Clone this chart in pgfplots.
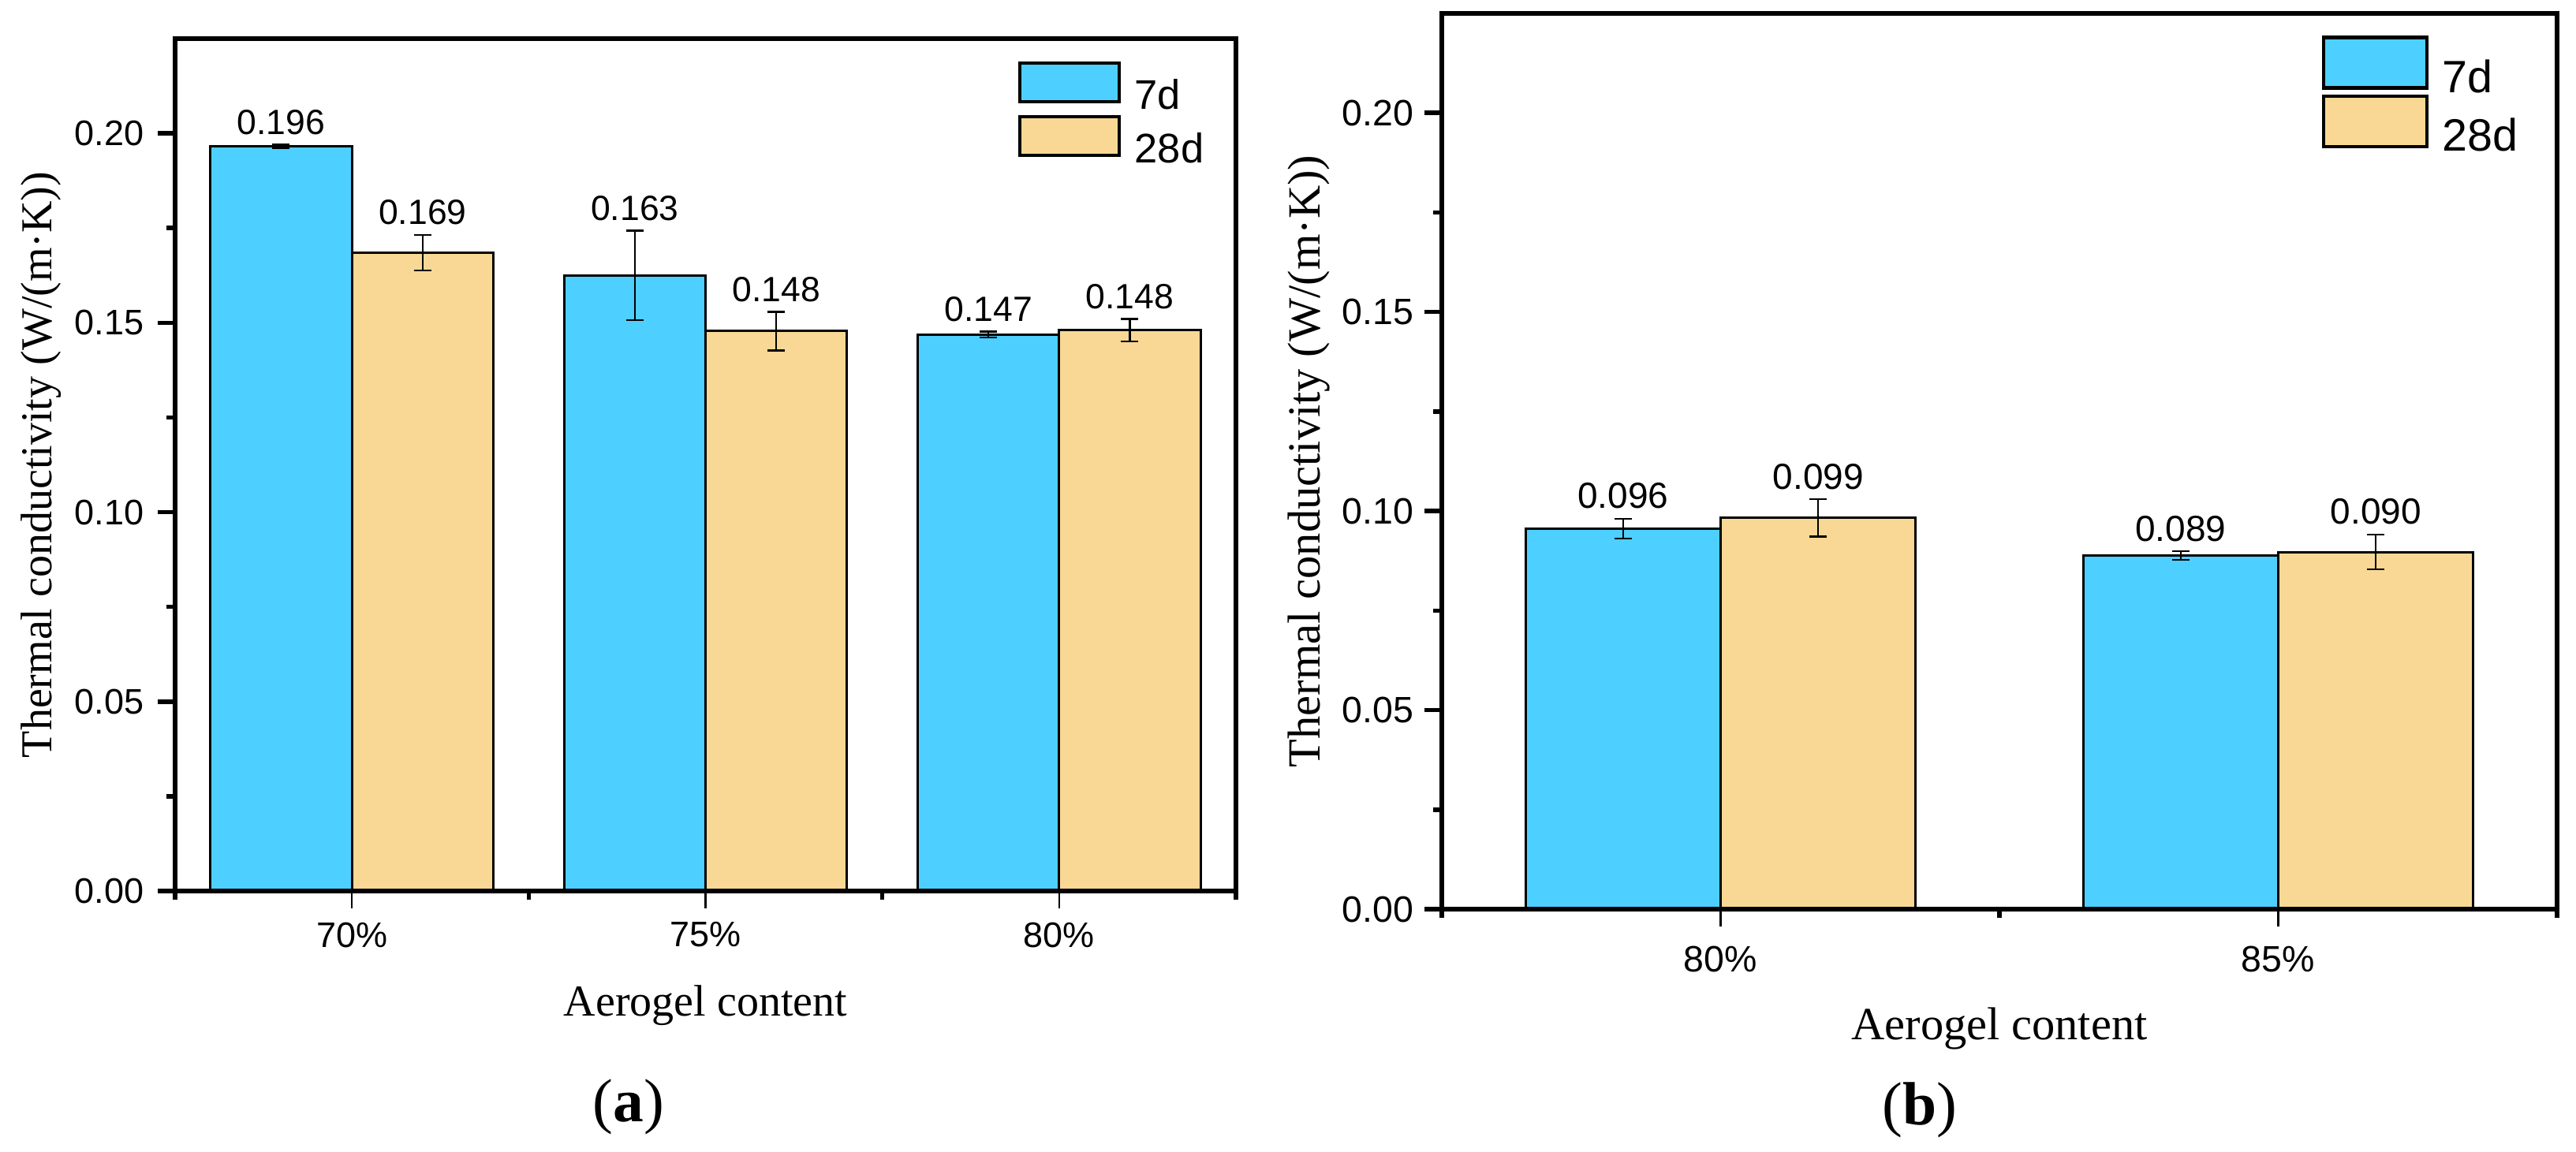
\documentclass[border=0pt]{standalone}
\usepackage{pgfplots}
\pgfplotsset{compat=1.18}
\usepackage{pgfplotstable}
\usepackage{fontspec}
\setmainfont{Liberation Sans}
\newfontfamily\seriffont{Liberation Serif}

\definecolor{c7}{RGB}{77,207,255}
\definecolor{c28}{RGB}{249,216,149}

% x, 7d value/error/label, 28d value/error/label
\pgfplotstableread{
x v7 e7 l7 v28 e28 l28
1 0.1965 0.0005 0.196 0.1685 0.0047 0.169
2 0.1625 0.0118 0.163 0.1478 0.0051 0.148
3 0.1469 0.0008 0.147 0.1480 0.0030 0.148
}\dataA

\pgfplotstableread{
x v7 e7 l7 v28 e28 l28
1 0.0956 0.0025 0.096 0.0983 0.0047 0.099
2 0.0888 0.0011 0.089 0.0897 0.0044 0.090
}\dataB

\pgfplotsset{
  thc/.style={
    scale only axis, ybar=0pt,
    ymin=0, ymax=0.225, enlargelimits=false,
    axis line style={line width=1.1pt},
    tick align=outside, tick pos=left,
    major tick length=4.4pt, minor tick length=2.2pt,
    every tick/.style={black, line width=1.1pt},
    major x tick style={line width=0.45pt},
    ytick={0,0.05,0.1,0.15,0.2}, minor y tick num=1,
    scaled y ticks=false,
    yticklabel style={/pgf/number format/fixed, /pgf/number format/fixed zerofill,
      /pgf/number format/precision=2},
    /pgf/number format/assume math mode=true,
    ylabel={Thermal conductivity (W/(m·K))},
    xlabel={Aerogel content},
    axis on top,
    legend cell align=left,
  },
  barset/.style={
    draw=black, line width=0.6pt,
    nodes near coords, point meta=explicit symbolic,
    visualization depends on={\thisrow{#1} \as \err},
    error bars/y dir=both, error bars/y explicit,
    error bars/error bar style={line width=0.45pt, black},
    error bars/error mark options={rotate=90, mark size=2.2pt, line width=0.45pt, black},
  },
}

\begin{document}
\begin{tikzpicture}
\useasboundingbox (0,0) rectangle (653.2pt,-292pt);

% ---------- (a)
\begin{axis}[thc,
  at={(44.4pt,-9.8pt)}, anchor=north west,
  width=269pt, height=216.2pt,
  bar width=0.4,
  xmin=0.5, xmax=3.5, xtick={1,2,3}, xticklabels={70\%,75\%,80\%},
  minor xtick={0.5,1.5,2.5,3.5},
  tick label style={font=\fontsize{9}{10}\selectfont},
  xlabel style={at={(axis description cs:0.5,-0.147)}, anchor=base,
    font=\seriffont\fontsize{11.2}{13}\selectfont},
  ylabel style={at={(axis description cs:-0.116,0.5)}, anchor=base,
    font=\seriffont\fontsize{11.2}{13}\selectfont},
  every node near coord/.append style={font=\fontsize{8.9}{10}\selectfont,
    inner sep=0pt, anchor=south, yshift=\err*960.9+2.2, black},
  legend style={draw=none, fill=none, at={(rel axis cs:0.795,0.973)},
    anchor=north west, inner sep=0pt, outer sep=0pt, row sep=0pt,
    column sep=0pt, font=\fontsize{10.5}{12}\selectfont,
    nodes={inner sep=0pt, outer sep=0pt}},
  legend image code/.code={\draw[#1, line width=0.8pt] (0pt,-1.15pt) rectangle (25.2pt,8.65pt);
    \path (28.8pt,0pt);},
]
\addplot[fill=c7, barset=e7] table[x=x, y=v7, y error=e7, meta=l7] {\dataA};
\addplot[fill=c28, barset=e28] table[x=x, y=v28, y error=e28, meta=l28] {\dataA};
\legend{7d,28d}
\end{axis}

% ---------- (b)
\begin{axis}[thc,
  at={(365.6pt,-3.4pt)}, anchor=north west,
  width=282.8pt, height=227.2pt,
  bar width=0.35,
  xmin=0.5, xmax=2.5, xtick={1,2}, xticklabels={80\%,85\%},
  minor xtick={0.5,1.5,2.5},
  tick label style={font=\fontsize{9.3}{10}\selectfont},
  xticklabel style={yshift=-1.4pt},
  yticklabel style={xshift=0.8pt},
  xlabel style={at={(axis description cs:0.5,-0.146)}, anchor=base,
    font=\seriffont\fontsize{11.7}{13}\selectfont},
  ylabel style={at={(axis description cs:-0.109,0.5)}, anchor=base,
    font=\seriffont\fontsize{11.7}{13}\selectfont},
  every node near coord/.append style={font=\fontsize{9.2}{10}\selectfont,
    inner sep=0pt, anchor=south, yshift=\err*1009.8+2.2, black},
  legend style={draw=none, fill=none, at={(rel axis cs:0.789,0.975)},
    anchor=north west, inner sep=0pt, outer sep=0pt, row sep=-1pt,
    column sep=0pt, font=\fontsize{11.5}{13}\selectfont,
    nodes={inner sep=0pt, outer sep=0pt}},
  legend image code/.code={\draw[#1, line width=0.9pt] (0pt,-2.3pt) rectangle (26.2pt,10.5pt);
    \path (29.8pt,0pt);},
]
\addplot[fill=c7, barset=e7] table[x=x, y=v7, y error=e7, meta=l7] {\dataB};
\addplot[fill=c28, barset=e28] table[x=x, y=v28, y error=e28, meta=l28] {\dataB};
\legend{7d,28d}
\end{axis}

\node[anchor=base, font=\seriffont\fontsize{15.5}{18}\selectfont] at (159.4pt,-284.4pt) {(\textbf{a})};
\node[anchor=base, font=\seriffont\fontsize{15.5}{18}\selectfont] at (486.8pt,-285.2pt) {(\textbf{b})};
\end{tikzpicture}
\end{document}
